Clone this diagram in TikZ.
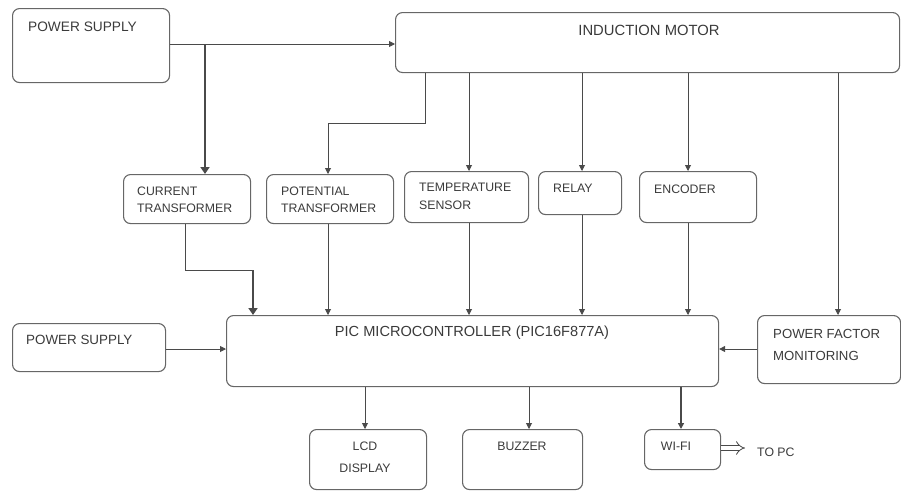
\documentclass[tikz,border=0pt]{standalone}
\usepackage{fontspec}
\setmainfont{Liberation Sans}
\usetikzlibrary{arrows.meta,calc}
\definecolor{linec}{HTML}{4A4A4A}
\definecolor{boxc}{HTML}{666666}
\definecolor{txtc}{HTML}{3A3A3A}
\begin{document}
\begin{tikzpicture}[x=1pt,y=-1pt,
  box/.style={draw=boxc, line width=1.1pt, rounded corners=7pt, inner sep=0pt, anchor=north west},
  lbl/.style={text=txtc, inner sep=0pt, anchor=west, font=\fontsize{12.3}{17}\selectfont, align=left},
  conn/.style={draw=linec, line width=0.9pt, -{Triangle[length=6pt,width=6pt]}},
  plain/.style={draw=linec, line width=0.9pt},
  thick conn/.style={draw=linec, line width=2.8pt, -{Triangle[length=7pt,width=9pt]}}]
\useasboundingbox (0,0) rectangle (901,490);
% boxes
\node[box, minimum width=157pt, minimum height=74pt] (ps1) at (12,8) {};
\node[box, minimum width=504pt, minimum height=60pt] (im) at (395,12) {};
\node[box, minimum width=127pt, minimum height=49pt] (ct) at (123,174) {};
\node[box, minimum width=127pt, minimum height=49pt] (pt) at (266,174) {};
\node[box, minimum width=124pt, minimum height=51pt] (temp) at (404,171) {};
\node[box, minimum width=83pt, minimum height=43pt] (relay) at (538,171) {};
\node[box, minimum width=117pt, minimum height=51pt] (enc) at (639,171) {};
\node[box, minimum width=492pt, minimum height=71pt] (pic) at (226,315) {};
\node[box, minimum width=143pt, minimum height=68pt] (pfm) at (757,315) {};
\node[box, minimum width=153pt, minimum height=48pt] (ps2) at (12,323) {};
\node[box, minimum width=117pt, minimum height=60pt] (lcd) at (309,429) {};
\node[box, minimum width=120pt, minimum height=60pt] (buz) at (462,429) {};
\node[box, minimum width=76pt, minimum height=40pt] (wifi) at (644,429) {};
% labels
\node[lbl, font=\fontsize{13.7}{17}\selectfont] (ps1t) at (28,26.5) {POWER SUPPLY};
\node[lbl, anchor=center, font=\fontsize{14.8}{17}\selectfont] (imt) at (649,30) {INDUCTION MOTOR};
\node[lbl] (ctt) at (137,199.5) {CURRENT\\TRANSFORMER};
\node[lbl] (ptt) at (281,199.5) {POTENTIAL\\TRANSFORMER};
\node[lbl, font=\fontsize{12.3}{18}\selectfont] (tempt) at (419,196) {TEMPERATURE\\SENSOR};
\node[lbl] (relayt) at (553,188) {RELAY};
\node[lbl] (enct) at (654,189) {ENCODER};
\node[lbl, anchor=center, font=\fontsize{14.6}{17}\selectfont] (pict) at (472,333) {PIC MICROCONTROLLER (PIC16F877A)};
\node[lbl, font=\fontsize{13.2}{21.5}\selectfont] (pfmt) at (773,345) {POWER FACTOR\\MONITORING};
\node[lbl, font=\fontsize{13.4}{17}\selectfont] (ps2t) at (26,340) {POWER SUPPLY};
\node[lbl, anchor=center, align=center, font=\fontsize{12.3}{21.5}\selectfont] (lcdt) at (365,457.5) {LCD\\DISPLAY};
\node[lbl, anchor=center] (buzt) at (522,446) {BUZZER};
\node[lbl, anchor=center] (wifit) at (676,446) {WI-FI};
\node[lbl] (topc) at (757,452) {TO PC};
% connectors
\draw[conn] (ps1.east |- 0,44) -- (im.west |- 0,44);
\draw[thick conn] (205,44) -- (ct.north -| 205,0);
\draw[conn] (im.south -| 425,0) |- (0,123 -| 328,0) -- (pt.north -| 328,0);
\draw[conn] (im.south -| 469,0) -- (temp.north -| 469,0);
\draw[conn] (im.south -| 582,0) -- (relay.north -| 582,0);
\draw[conn] (im.south -| 688,0) -- (enc.north -| 688,0);
\draw[conn] (im.south -| 838,0) -- (pfm.north -| 838,0);
\coordinate (ctbend) at (253,270);
\draw[plain] (ct.south -| 185,0) |- (ctbend);
\draw[thick conn] (ctbend) -- (pic.north -| ctbend);
\draw[conn] (pt.south -| 328,0) -- (pic.north -| 328,0);
\draw[conn] (temp.south -| 469,0) -- (pic.north -| 469,0);
\draw[conn] (relay.south -| 582,0) -- (pic.north -| 582,0);
\draw[conn] (enc.south -| 688,0) -- (pic.north -| 688,0);
\draw[conn] (ps2.east |- 0,349) -- (pic.west |- 0,349);
\draw[conn] (pfm.west |- 0,349) -- (pic.east |- 0,349);
\draw[conn] (pic.south -| 365,0) -- (lcd.north -| 365,0);
\draw[conn] (pic.south -| 529,0) -- (buz.north -| 529,0);
\draw[conn, line width=1.8pt] (pic.south -| 681,0) -- (wifi.north -| 681,0);
\coordinate (pcend) at (745,448);
\draw[draw=linec, line width=0.8pt, double, double distance=4pt, -{Implies}] (wifi.east |- pcend) -- (pcend);
\end{tikzpicture}
\end{document}
